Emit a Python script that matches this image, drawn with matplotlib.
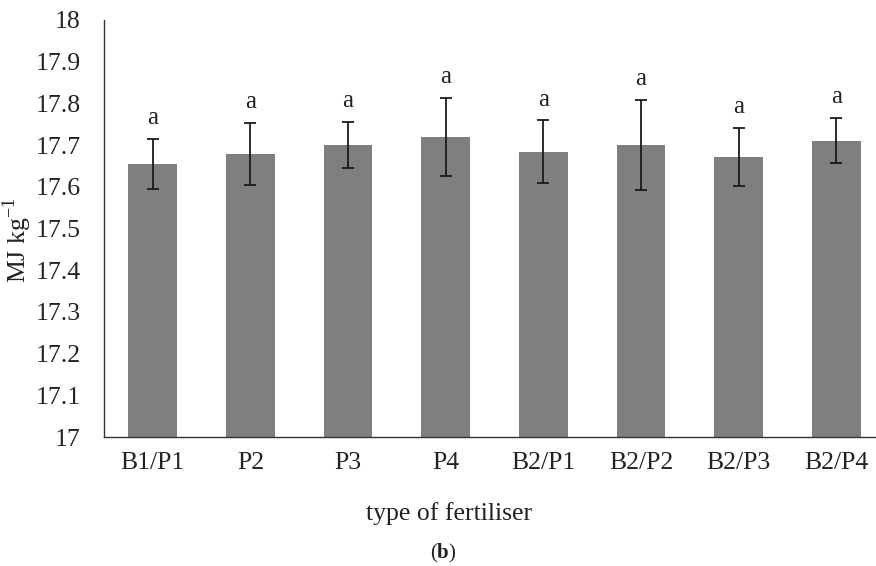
import matplotlib.pyplot as plt

# energy value per fertiliser type
fertilisers = ["B1/P1", "P2", "P3", "P4", "B2/P1", "B2/P2", "B2/P3", "B2/P4"]
means = [17.655, 17.679, 17.700, 17.720, 17.684, 17.700, 17.672, 17.711]
errors = [0.060, 0.075, 0.055, 0.094, 0.075, 0.108, 0.070, 0.055]
letters = ["a", "a", "a", "a", "a", "a", "a", "a"]

plt.rcParams["font.family"] = ["Liberation Serif", "DejaVu Serif"]
plt.rcParams["mathtext.fontset"] = "custom"
plt.rcParams["mathtext.rm"] = "Liberation Serif"
plt.rcParams["mathtext.bf"] = "Liberation Serif:bold"

W, H = 876, 566
fig = plt.figure(figsize=(W / 100, H / 100), dpi=100)
# axes box in pixels: left 104, right 885, top 20, bottom 437
ax = fig.add_axes([104 / W, 1 - 437 / H, (885 - 104) / W, (437 - 20) / H])

x = range(len(fertilisers))
ax.bar(x, [m - 17 for m in means], bottom=17, width=0.5, color="#7f7f7f")
ax.errorbar(x, means, yerr=errors, fmt="none", ecolor="#1a1a1a",
            elinewidth=1.3, capsize=4, capthick=1.3)

for i, (m, e, t) in enumerate(zip(means, errors, letters)):
    ax.annotate(t, (i, m + e), xytext=(0, 7), textcoords="offset points",
                ha="center", va="bottom", fontsize=18, color="#222222")

ax.set_xlim(-0.5, 7.5)
ax.set_ylim(17, 18)
ax.set_yticks([17 + k / 10 for k in range(11)])
ax.set_yticklabels(["17"] + ["17.%d" % k for k in range(1, 10)] + ["18"])
ax.set_xticks(list(x))
ax.set_xticklabels(fertilisers)
ax.tick_params(axis="both", length=0, labelsize=18.5, labelcolor="#222222")
ax.tick_params(axis="y", pad=17)
ax.tick_params(axis="x", pad=11)

for s in ["top", "right"]:
    ax.spines[s].set_visible(False)
for s in ["left", "bottom"]:
    ax.spines[s].set_color("#333333")
    ax.spines[s].set_linewidth(1.0)

fig.text(449 / W, 1 - 514 / H, "type of fertiliser", ha="center", va="center",
         fontsize=18.5, color="#222222")
fig.text(443 / W, 1 - 553 / H, r"($\mathbf{b}$)", ha="center", va="center",
         fontsize=15, color="#222222")
fig.text(17 / W, 1 - 240 / H, r"MJ kg$^{-1}$", ha="center", va="center",
         rotation=90, fontsize=18.5, color="#222222")

fig.savefig("out.png", dpi=100)
